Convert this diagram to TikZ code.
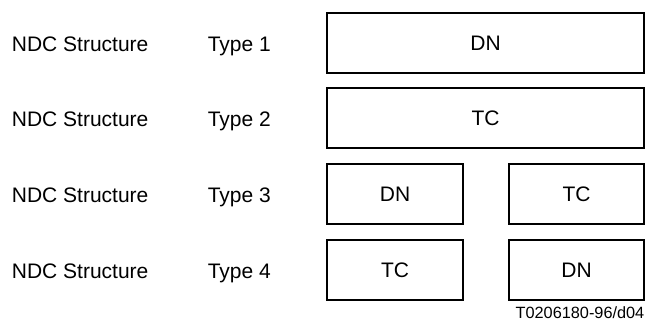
\documentclass[tikz,border=0pt]{standalone}
\usepackage{fontspec}
\setmainfont{Liberation Sans}
\begin{document}
\begin{tikzpicture}[x=1pt,y=-1pt,
  box/.style={draw, line width=1.5pt, inner sep=0pt, text height=15pt, text depth=0pt, font=\fontsize{21}{25}\selectfont},
  lbl/.style={anchor=base west, inner sep=0pt, font=\fontsize{21}{25}\selectfont},
  code/.style={anchor=base east, inner sep=0pt, font=\fontsize{16.3}{19}\selectfont}]
\useasboundingbox (0,0) rectangle (645,322);
% rows
\foreach \r/\y in {1/51.5,2/126.5,3/202.5,4/278.5}{
  \node[lbl] (ndc\r) at (11.7,\y) {NDC Structure};
  \node[lbl] (type\r) at (207.6,\y) {Type \r};
}
\node[box, minimum width=317pt, minimum height=60pt] (dn1) at (485.5,43) {DN};
\node[box, minimum width=317pt, minimum height=60pt] (tc2) at (485.5,118) {TC};
\node[box, minimum width=136pt, minimum height=60pt] (dn3) at (395,194) {DN};
\node[box, minimum width=135pt, minimum height=60pt] (tc3) at (576.5,194) {TC};
\node[box, minimum width=136pt, minimum height=60pt] (tc4) at (395,270) {TC};
\node[box, minimum width=135pt, minimum height=60pt] (dn4) at (576.5,270) {DN};
\node[code] (ref) at (644.5,318) {T0206180-96/d04};
\end{tikzpicture}
\end{document}
